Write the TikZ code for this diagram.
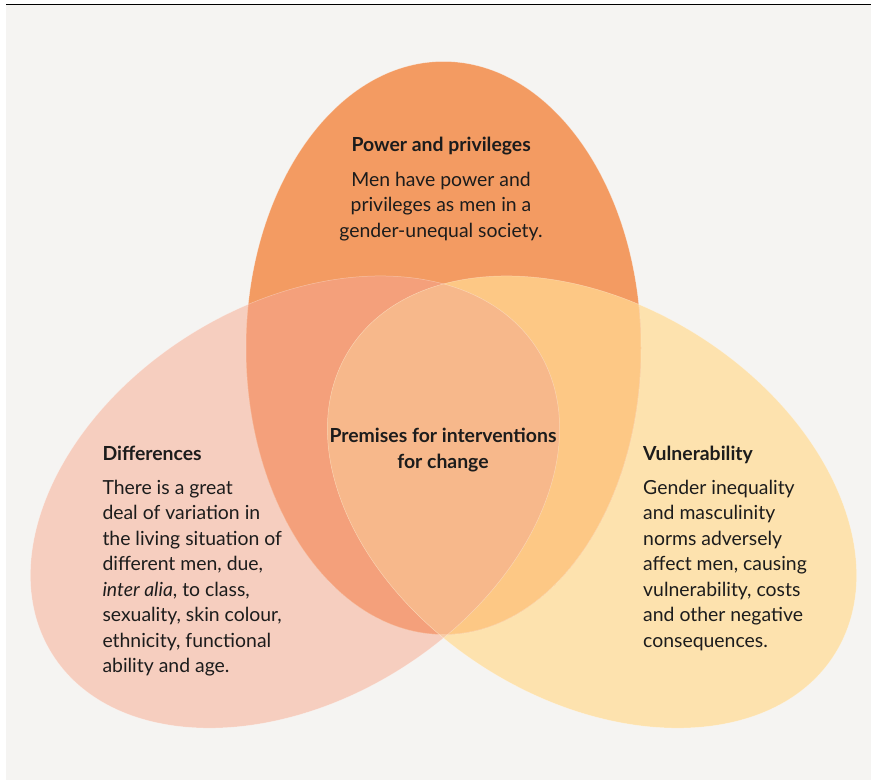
\documentclass[tikz,border=0pt]{standalone}
\usepackage{fontspec}
\setmainfont{Lato}
\definecolor{bggrey}{HTML}{F5F4F2}
\definecolor{powerfill}{HTML}{F39B62}
\definecolor{difffill}{HTML}{F6CEBF}
\definecolor{vulnfill}{HTML}{FDE2AE}
\definecolor{powdiff}{HTML}{F4A07B}
\definecolor{powvuln}{HTML}{FDC885}
\definecolor{diffvuln}{HTML}{F8CBA6}
\definecolor{premfill}{HTML}{F7B88B}
\definecolor{textcol}{HTML}{1C1C1C}
\def\powerpath{(443.5, 348) ellipse [x radius=197.5, y radius=286.5]}
\def\diffpath{[rotate around={32:(295, 502)}] (295, 502) ellipse [x radius=286.5, y radius=197.5]}
\def\vulnpath{[rotate around={-32:(592, 502)}] (592, 502) ellipse [x radius=286.5, y radius=197.5]}
\tikzset{
  edge/.style={draw=white, draw opacity=0.35, line width=0.5pt},
  head/.style={inner sep=0, text=textcol, font=\fontsize{19.4}{25.5}\selectfont\bfseries},
  body/.style={inner sep=0, text=textcol, font=\fontsize{19.4}{25.5}\selectfont}
}
\begin{document}
\begin{tikzpicture}[x=1pt, y=-1pt]
			%%%%% START %%%%%
			\useasboundingbox (0, 0) rectangle (871, 780);
			\fill[white] (0, 0) rectangle (871, 780);
			\fill[bggrey] (6, 5) rectangle (871, 780);
			\fill[black] (6, 3.7) rectangle (871, 5.1);
			
			\fill[difffill] \diffpath;
			\fill[vulnfill] \vulnpath;
			\begin{scope}
				\clip \diffpath;
				\fill[diffvuln] \vulnpath;
			\end{scope}
			
			\fill[powerfill] \powerpath;
			\begin{scope}
				\clip \powerpath;
				\fill[powdiff] \diffpath;
				\fill[powvuln] \vulnpath;
				\clip \diffpath;
				\fill[premfill] \vulnpath;
			\end{scope}
			
			\path[edge] \diffpath;
			\path[edge] \vulnpath;
			\path[edge] \powerpath;
			
			\node[head, anchor=base] (power-head) at (441.2, 151.5) {Power and privileges};
			\node[body, anchor=base] (power-text) at (441, 186) {\begin{tabular}[t]{@{}c@{}}Men have power and\\ privileges as men in a\\ gender-unequal society.\end{tabular}};
			
			\node[head, anchor=base west] (diff-head) at (102.3, 460) {Differences};
			\node[body, anchor=base west] (diff-text) at (102.3, 494) {\begin{tabular}[t]{@{}l@{}}There is a great\\ deal of variation in\\ the living situation of\\ different men, due,\\ \textit{inter alia}, to class,\\ sexuality, skin colour,\\ ethnicity, functional\\ ability and age.\end{tabular}};
			
			\node[head, anchor=base west] (vuln-head) at (643, 460) {Vulnerability};
			\node[body, anchor=base west] (vuln-text) at (643, 494.3) {\begin{tabular}[t]{@{}l@{}}Gender inequality\\ and masculinity\\ norms adversely\\ affect men, causing\\ vulnerability, costs\\ and other negative\\ consequences.\end{tabular}};
			
			\node[head, anchor=base] (premises) at (443, 442.7) {\begin{tabular}[t]{@{}c@{}}Premises for interventions\\ for change\end{tabular}};
			%%%%% END %%%%%
\end{tikzpicture}
\end{document}
